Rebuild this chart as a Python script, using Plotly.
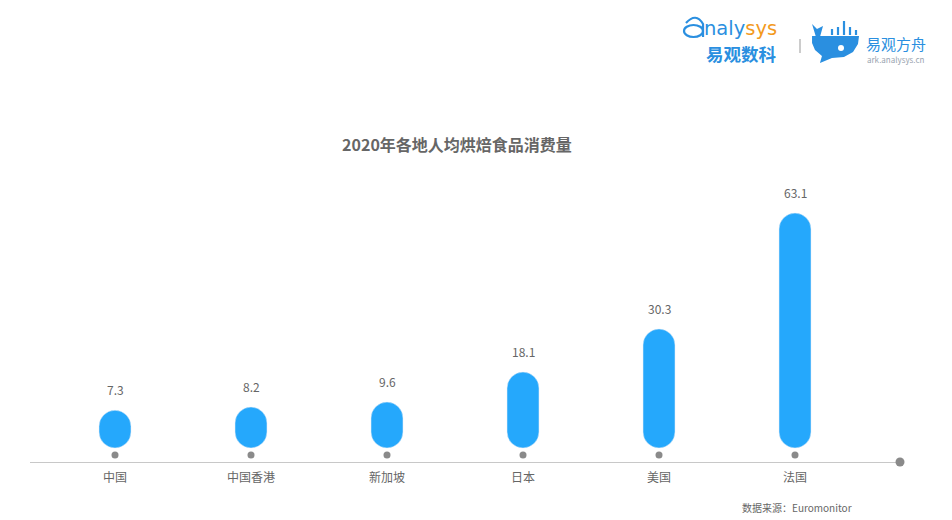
import plotly.graph_objects as go

# 2020 per-capita bakery consumption (kg)
regions = ["中国", "中国香港", "新加坡", "日本", "美国", "法国"]
consumption = [7.3, 8.2, 9.6, 18.1, 30.3, 63.1]
value_labels = ["7.3", "8.2", "9.6", "18.1", "30.3", "63.1"]

BLUE = "#25A8FC"
LOGO_BLUE = "#2a8fe0"
GREY = "#666666"
FONT = "Noto Sans CJK SC"

# the page body adds an 8px margin, so the figure is drawn 8px in from the top-left
OFF = 8
W, H = 952 - OFF, 520 - OFF
# plot area edges in screenshot pixels
X0, X1, Y0, Y1 = 30, 900, 188, 462
L, R, T, B = X0 - OFF, W - (X1 - OFF), Y0 - OFF, H - (Y1 - OFF)


def px(x):
    return (x - X0) / (X1 - X0)


def py(y):
    return (Y1 - y) / (Y1 - Y0)


BAR_BASE = -3.4

fig = go.Figure()
fig.add_trace(go.Bar(x=regions, y=[v - BAR_BASE for v in consumption], base=BAR_BASE, width=0.235,
                     marker=dict(color=BLUE, cornerradius="50%"),
                     customdata=consumption, hovertemplate="%{x}: %{customdata}<extra></extra>",
                     showlegend=False))
# small grey dots under each bar
fig.add_trace(go.Scatter(x=regions, y=[-5.4] * len(regions), mode="markers",
                         marker=dict(color="#8a8a8a", size=7),
                         hoverinfo="skip", showlegend=False, cliponaxis=False))

annotations = []
for r, v, t in zip(regions, consumption, value_labels):
    annotations.append(dict(x=r, y=v, text=t, showarrow=False, yanchor="bottom",
                            yshift=10, font=dict(size=12, color=GREY, family=FONT)))

# source note
annotations.append(dict(xref="paper", yref="paper", x=px(854), y=py(507), text="数据来源：Euromonitor",
                        showarrow=False, xanchor="right", yanchor="middle",
                        font=dict(size=10, color=GREY, family=FONT)))

# logo texts
annotations += [
    dict(xref="paper", yref="paper", x=px(703), y=py(28),
         text="<span style='color:#2a8fe0'>naly</span><span style='color:#f39a1e'>sys</span>",
         showarrow=False, xanchor="left", yanchor="middle", borderpad=0,
         font=dict(size=19.5, family="DejaVu Sans", color=LOGO_BLUE)),
    dict(xref="paper", yref="paper", x=px(741), y=py(53), text="<b>易观数科</b>",
         showarrow=False, xanchor="center", yanchor="middle", borderpad=0,
         font=dict(size=17.5, family=FONT, color=LOGO_BLUE)),
    dict(xref="paper", yref="paper", x=px(864), y=py(43), text="易观方舟",
         showarrow=False, xanchor="left", yanchor="middle",
         font=dict(size=15, family=FONT, color=LOGO_BLUE)),
    dict(xref="paper", yref="paper", x=px(865), y=py(59), text="ark.analysys.cn",
         showarrow=False, xanchor="left", yanchor="middle",
         font=dict(size=8, family=FONT, color="#9aa4b0")),
]


def path(points):
    return "M " + " L ".join(f"{px(x):.4f},{py(y):.4f}" for x, y in points) + " Z"


shapes = [
    # swoosh "a" of the analysys logo
    dict(type="path", xref="paper", yref="paper", line=dict(color=LOGO_BLUE, width=2.2),
         path=f"M {px(686):.4f},{py(23):.4f} Q {px(696):.4f},{py(12):.4f} {px(703):.4f},{py(24):.4f} "
              f"L {px(703):.4f},{py(37):.4f}"),
    dict(type="circle", xref="paper", yref="paper", line=dict(color=LOGO_BLUE, width=2.2),
         x0=px(684), x1=px(703), y0=py(25), y1=py(37)),
    # separator
    dict(type="line", xref="paper", yref="paper", x0=px(800), x1=px(800), y0=py(39), y1=py(53),
         line=dict(color="#999999", width=1)),
    # whale body
    dict(type="path", xref="paper", yref="paper", line=dict(width=0), fillcolor=LOGO_BLUE,
         path=path([(812, 36), (859, 36), (858, 44), (853, 52), (844, 57), (832, 58), (820, 63),
                    (822, 56), (815, 50), (812, 43)])),
    # whale tail
    dict(type="path", xref="paper", yref="paper", line=dict(width=0), fillcolor=LOGO_BLUE,
         path=path([(816, 37), (812, 24), (817, 29), (823, 26), (820, 37)])),
    # eye
    dict(type="circle", xref="paper", yref="paper", line=dict(width=0), fillcolor="white",
         x0=px(838), x1=px(844), y0=py(45), y1=py(51)),
]
# bars above the whale
for bx, top in [(832, 29), (838, 27), (844, 21), (850, 27), (856, 30)]:
    shapes.append(dict(type="line", xref="paper", yref="paper", x0=px(bx), x1=px(bx),
                       y0=py(35), y1=py(top), line=dict(color=LOGO_BLUE, width=2.2)))

# grey dot at the right end of the axis line
shapes.append(dict(type="circle", xref="paper", yref="paper", xsizemode="pixel", ysizemode="pixel",
                   xanchor=1, yanchor=0, x0=-4.5, x1=4.5, y0=-4.5, y1=4.5,
                   fillcolor="#8a8a8a", line=dict(width=0)))

fig.update_layout(
    width=W, height=H,
    margin=dict(l=L, r=R, t=T, b=B, autoexpand=False),
    paper_bgcolor="white", plot_bgcolor="white",
    title=dict(text="<b>2020年各地人均烘焙食品消费量</b>", x=(457 - OFF) / W, xanchor="center",
               xref="container", y=1 - (145 - OFF) / H, yanchor="middle", yref="container",
               font=dict(size=16, color=GREY, family=FONT)),
    xaxis=dict(range=[-0.625, 5.772], showline=True, linecolor="#c8c8c8", linewidth=1,
               showgrid=False, zeroline=False, ticks="", fixedrange=True, ticklabelstandoff=5,
               tickfont=dict(size=12, color=GREY, family=FONT)),
    yaxis=dict(range=[-7.36, 70.2], visible=False, fixedrange=True),
    annotations=annotations,
    shapes=shapes,
    font=dict(family=FONT),
)

fig.write_html("out.html")
